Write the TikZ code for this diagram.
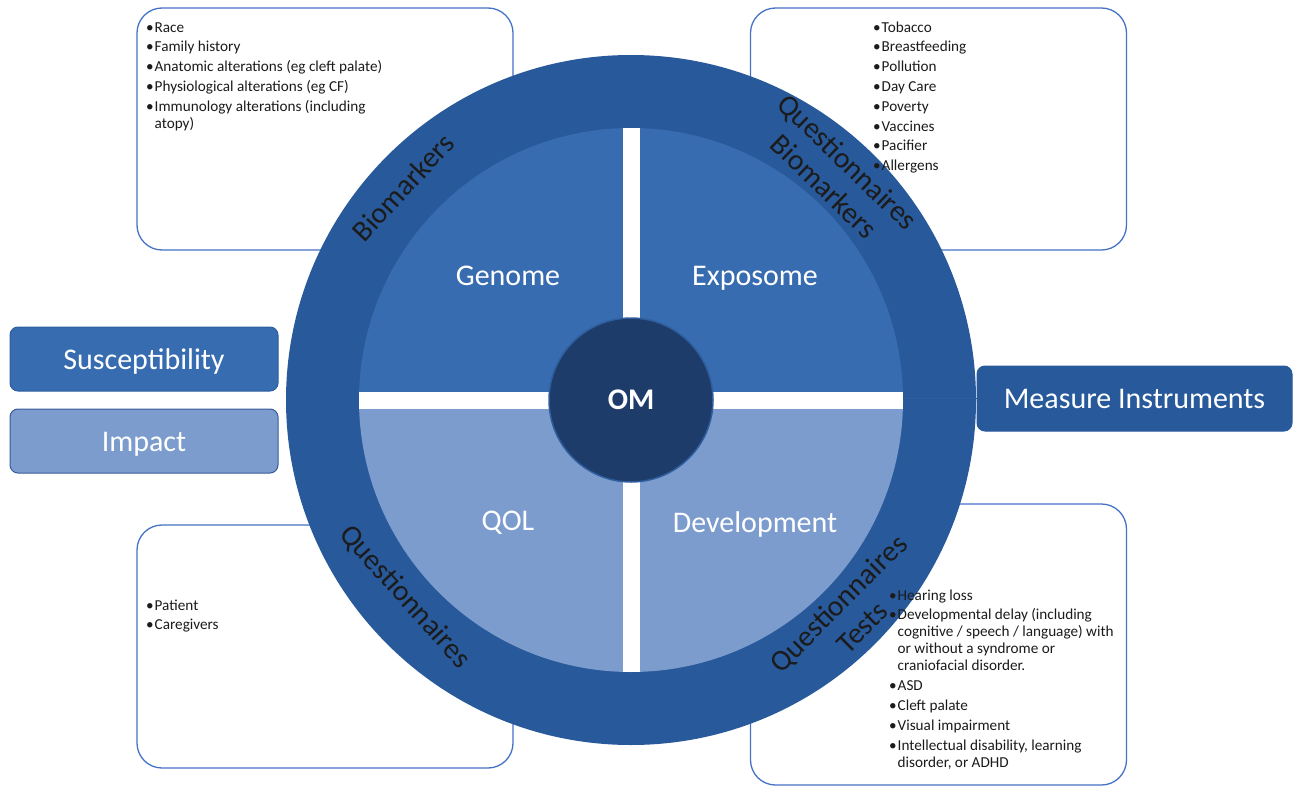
\documentclass[tikz,border=0pt]{standalone}
\usepackage{fontspec}
\setmainfont{Carlito}
\definecolor{ringblue}{HTML}{28599B}
\definecolor{topblue}{HTML}{376CB0}
\definecolor{lowblue}{HTML}{7C9CCD}
\definecolor{navy}{HTML}{1E3C6A}
\definecolor{navyedge}{HTML}{2F5E9E}
\definecolor{boxedge}{HTML}{4472C4}
\definecolor{inktext}{HTML}{1B1B1B}
\newcommand\lbul{\strut\makebox[8.5pt][l]{•}}
\newcommand\lcont{\strut\hspace*{8.5pt}}
\newcommand\lgap{2.8pt}
\begin{document}
\begin{tikzpicture}[x=1pt,y=-1pt,
  infobox/.style={draw=boxedge, line width=1.3pt, fill=white, rounded corners=25pt, inner sep=0pt},
  tab/.style={rounded corners=8pt, line width=1pt, inner sep=0pt, text=white,
              text height=24pt, text depth=4pt,
              font=\fontsize{30}{36}\selectfont},
  quadlabel/.style={text=white, font=\fontsize{30}{36}\selectfont, inner sep=0pt},
  ringlabel/.style={text=inktext, font=\fontsize{29.5}{34}\selectfont, inner sep=0pt, align=center},
  bullets/.style={anchor=north west, inner sep=0pt, align=left, text=inktext,
                  font=\fontsize{15.2}{17}\selectfont},
  link/.style={draw=navyedge, line width=0.8pt}]
\useasboundingbox (0,0) rectangle (1293,787);

% framed lists behind the wheel
\node[infobox, minimum width=376pt, minimum height=242pt] (boxTL) at (325,129) {};
\node[infobox, minimum width=376pt, minimum height=242pt] (boxTR) at (938.5,129) {};
\node[infobox, minimum width=376pt, minimum height=243pt] (boxBL) at (325,646.5) {};
\node[infobox, minimum width=376pt, minimum height=281pt] (boxBR) at (938.5,644.5) {};

% outer ring
\fill[ringblue] (631,400) circle[radius=345pt];
% upper and lower halves of the inner disc
\begin{scope}
  \clip (350,120) rectangle (912,400);
  \fill[topblue] (631,400) circle[radius=272pt];
\end{scope}
\begin{scope}
  \clip (350,400) rectangle (912,680);
  \fill[lowblue] (631,400) circle[radius=272pt];
\end{scope}
% white cross separating the quadrants
\fill[white] (622.5,128) rectangle (639.5,672);
\fill[white] (359,391.5) rectangle (903,408.5);

% centre
\node[circle, fill=navy, draw=navyedge, line width=1.5pt, minimum size=164pt, inner sep=0pt,
      text=white, font=\fontsize{30}{36}\selectfont\bfseries] (om) at (631,400) {OM};

% quadrant names
\node[quadlabel] (genome) at (508,276) {Genome};
\node[quadlabel] (exposome) at (755,278) {Exposome};
\node[quadlabel] (qol) at (508,523) {QOL};
\node[quadlabel] (devel) at (755,524) {Development};

% labels on the ring
\node[ringlabel, rotate=47] (rBio) at (403,187) {Biomarkers};
\node[ringlabel, rotate=-48] (rQue) at (405,597) {Questionnaires};
\node[ringlabel, rotate=-44] (rQB) at (836,174) {Questionnaires\\Biomarkers};
\node[ringlabel, rotate=45] (rQT) at (850,615) {Questionnaires\\Tests};

% side tabs
\node[tab, fill=topblue, draw=navyedge, minimum width=268pt, minimum height=64pt] (susc) at (144,359) {Susceptibility};
\node[tab, fill=lowblue, draw=boxedge!80!black, minimum width=268pt, minimum height=64pt] (impact) at (144,441) {Impact};
\node[tab, fill=ringblue, draw=ringblue, minimum width=315pt, minimum height=65pt] (measure) at (1134.5,398.5) {Measure Instruments};
\coordinate (ringedge) at (903,398.5);
\draw[link] (ringedge) -- (measure.west);

% list contents
\node[bullets] (lTL) at (146,20) {%
\lbul Race\\[\lgap]
\lbul Family history\\[\lgap]
\lbul Anatomic alterations (eg cleft palate)\\[\lgap]
\lbul Physiological alterations (eg CF)\\[\lgap]
\lbul Immunology alterations (including\\
\lcont atopy)};
\node[bullets] (lTR) at (873,20) {%
\lbul Tobacco\\[\lgap]
\lbul Breastfeeding\\[\lgap]
\lbul Pollution\\[\lgap]
\lbul Day Care\\[\lgap]
\lbul Poverty\\[\lgap]
\lbul Vaccines\\[\lgap]
\lbul Pacifier\\[\lgap]
\lbul Allergens};
\node[bullets] (lBL) at (146,598) {%
\lbul Patient\\[\lgap]
\lbul Caregivers};
\node[bullets] (lBR) at (889,588) {%
\lbul Hearing loss\\[\lgap]
\lbul Developmental delay (including\\
\lcont cognitive / speech / language) with\\
\lcont or without a syndrome or\\
\lcont craniofacial disorder.\\[\lgap]
\lbul ASD\\[\lgap]
\lbul Cleft palate\\[\lgap]
\lbul Visual impairment\\[\lgap]
\lbul Intellectual disability, learning\\
\lcont disorder, or ADHD};
\end{tikzpicture}
\end{document}
